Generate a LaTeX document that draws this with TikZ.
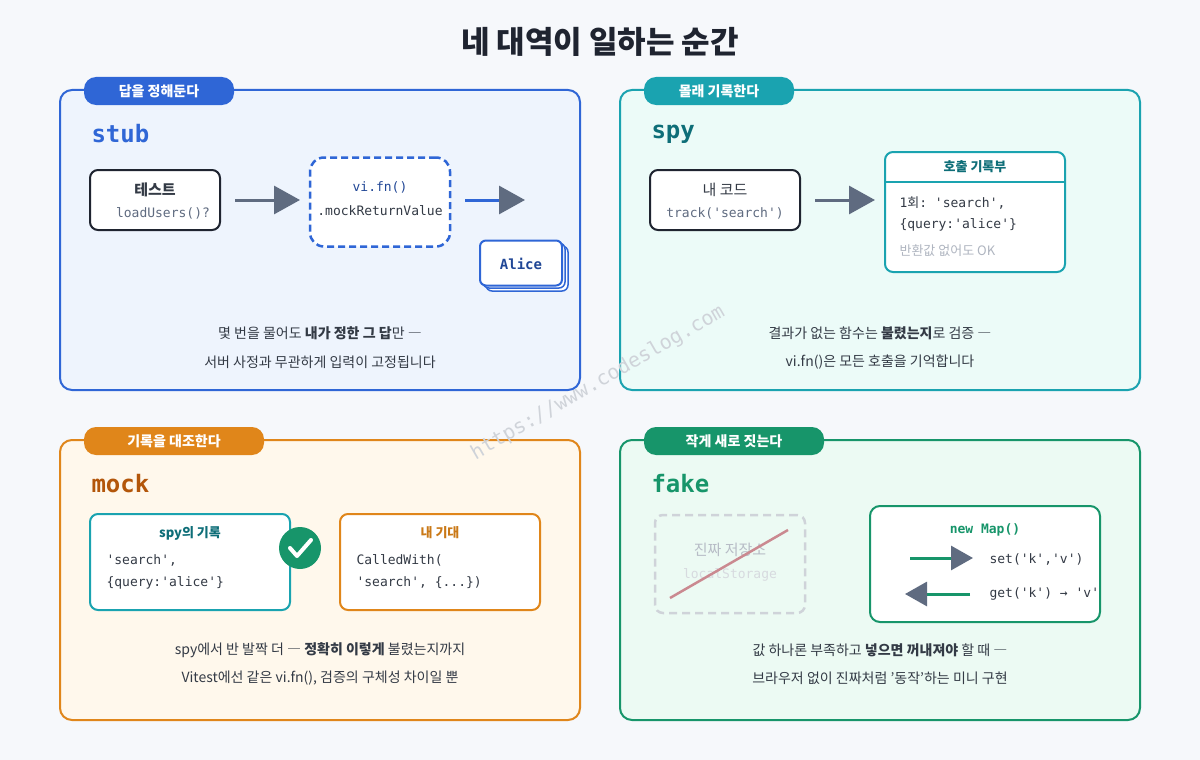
\documentclass[tikz,border=0pt]{standalone}
\usepackage{fontspec}
\setmainfont{Noto Sans CJK KR}
\setmonofont{DejaVu Sans Mono}
\usetikzlibrary{arrows.meta,positioning,shapes}
\definecolor{bg}{HTML}{F6F8FB}
\definecolor{stubc}{HTML}{2F66D6}
\definecolor{stubbg}{HTML}{EEF4FD}
\definecolor{spyc}{HTML}{1AA3B0}
\definecolor{spybg}{HTML}{ECFBF8}
\definecolor{spyd}{HTML}{0E6E78}
\definecolor{mockc}{HTML}{E0861A}
\definecolor{mockbg}{HTML}{FFF8EC}
\definecolor{mockd}{HTML}{B3560A}
\definecolor{fakec}{HTML}{17956A}
\definecolor{fakebg}{HTML}{ECFAF3}
\definecolor{slate}{HTML}{5F6B80}
\definecolor{ink}{HTML}{1F2430}
\definecolor{txt}{HTML}{333A45}
\newcommand{\fs}[1]{\fontsize{#1}{#1}\selectfont}
\begin{document}
\begin{tikzpicture}[x=1pt,y=-1pt,
    panel/.style={draw=#1,line width=2,rounded corners=12},
    tab/.style={fill=#1,rounded corners=12,text=white,font=\fs{14}\bfseries,inner sep=0},
    head/.style={anchor=west,text=#1,font=\fs{24}\ttfamily\bfseries},
    box/.style={draw=#1,fill=white,line width=2,rounded corners=8},
    note/.style={text=txt,font=\fs{14}},
    code/.style={font=\fs{13}\ttfamily,text=txt},
    flow/.style={line width=3,draw=#1,-{Triangle[length=26,width=28,color=slate]}}
  ]
  \useasboundingbox[fill=bg] (0,0) rectangle (1200,760);
  \node[text=ink,font=\fs{31}\bfseries] (title) at (600,42) {네 대역이 일하는 순간};

  % panels
  \filldraw[panel=stubc,fill=stubbg] (60,90) rectangle (580,390);
  \filldraw[panel=spyc,fill=spybg] (620,90) rectangle (1140,390);
  \filldraw[panel=mockc,fill=mockbg] (60,440) rectangle (580,720);
  \filldraw[panel=fakec,fill=fakebg] (620,440) rectangle (1140,720);

  % tabs
  \node[tab=stubc,minimum width=150,minimum height=28] (t1) at (159,91) {답을 정해둔다};
  \node[tab=spyc,minimum width=150,minimum height=28] (t2) at (719,91) {몰래 기록한다};
  \node[tab=mockc,minimum width=180,minimum height=28] (t3) at (174,441) {기록을 대조한다};
  \node[tab=fakec,minimum width=180,minimum height=28] (t4) at (734,441) {작게 새로 짓는다};

  % watermark
  \node[rotate=30,text=slate!30,font=\fs{20}\ttfamily] (wm) at (598,383) {https://www.codeslog.com};

  % stub
  \node[head=stubc] (h1) at (88,134) {stub};
  \node[box=ink,minimum width=130,minimum height=60] (test) at (155,200) {};
  \node[font=\fs{15}\bfseries,text=txt] at (155,190) {테스트};
  \node[code,text=slate] at (163,213) {loadUsers()?};
  \node[draw=stubc,fill=white,line width=2.5,dash pattern=on 7pt off 4pt,rounded corners=14,minimum width=140,minimum height=89] (vifn) at (380,202) {};
  \node[code,text=stubc!70!black] at (380,187) {vi.fn()};
  \node[code] at (380,211) {.mockReturnValue};
  \coordinate (a1) at (235,200);
  \coordinate (a2) at (300,200);
  \draw[flow=slate] (a1) -- (a2);
  \coordinate (a3) at (465,200);
  \coordinate (a4) at (525,200);
  \draw[flow=stubc] (a3) -- (a4);
  \foreach \d in {6,3}
    \draw[box=stubc,line width=1.5,rounded corners=6] (480+\d,240+\d) rectangle (562+\d,285+\d);
  \node[box=stubc,minimum width=82,minimum height=45,rounded corners=6] (alice) at (521,263) {};
  \node[font=\fs{14}\ttfamily\bfseries,text=stubc!70!black] at (521,264) {Alice};
  \node[note] (n1) at (320,333) {몇 번을 물어도 \textbf{내가 정한 그 답}만 ―};
  \node[note] (n2) at (320,362) {서버 사정과 무관하게 입력이 고정됩니다};

  % spy
  \node[head=spyd] (h2) at (648,134) {spy};
  \node[box=ink,minimum width=150,minimum height=60] (mine) at (725,200) {};
  \node[font=\fs{15},text=txt] at (725,190) {내 코드};
  \node[code,text=slate] at (725,213) {track('search')};
  \coordinate (b1) at (815,200);
  \coordinate (b2) at (875,200);
  \draw[flow=slate] (b1) -- (b2);
  \node[box=spyc,minimum width=180,minimum height=120] (log) at (975,212) {};
  \draw[spyc,line width=2] (885,182) -- (1065,182);
  \node[font=\fs{13}\bfseries,text=spyd] at (975,167) {호출 기록부};
  \node[code,anchor=west] at (896,203) {1{\rmfamily 회}: 'search',};
  \node[code,anchor=west] at (896,225) {\{query:'alice'\}};
  \node[anchor=west,font=\fs{13},text=slate!50] at (896,251) {반환값 없어도 OK};
  \node[note] (n3) at (880,333) {결과가 없는 함수는 \textbf{불렸는지}로 검증 ―};
  \node[note] (n4) at (880,362) {vi.fn()은 모든 호출을 기억합니다};

  % mock
  \node[head=mockd] (h3) at (88,484) {mock};
  \node[box=spyc,minimum width=200,minimum height=96] (rec) at (190,562) {};
  \node[font=\fs{13}\bfseries,text=spyd] at (190,533) {spy의 기록};
  \node[code,anchor=west] at (103,560) {'search',};
  \node[code,anchor=west] at (103,583) {\{query:'alice'\}};
  \node[circle,fill=fakec,minimum size=42,inner sep=0] (ok) at (300,548) {};
  \draw[white,line width=4,line cap=round,line join=round] (290,548) -- (297,556) -- (311,540);
  \node[box=mockc,minimum width=200,minimum height=96] (exp) at (440,562) {};
  \node[font=\fs{13}\bfseries,text=mockc!90!black] at (440,533) {내 기대};
  \node[code,anchor=west] at (353,560) {CalledWith(};
  \node[code,anchor=west] at (353,583) {'search', \{...\})};
  \node[note] (n5) at (320,650) {spy에서 반 발짝 더 ― \textbf{정확히 이렇게} 불렸는지까지};
  \node[note] (n6) at (320,678) {Vitest에선 같은 vi.fn(), 검증의 구체성 차이일 뿐};

  % fake
  \node[head=fakec] (h4) at (648,484) {fake};
  \node[draw=slate!30,line width=2.5,dash pattern=on 8pt off 5pt,rounded corners=8,minimum width=150,minimum height=98] (real) at (730,564) {};
  \node[font=\fs{15},text=slate!45] at (730,550) {진짜 저장소};
  \node[code,text=slate!25] at (730,575) {localStorage};
  \draw[red!45!slate!60,line width=2.5] (670,598) -- (788,530);
  \node[box=fakec,minimum width=230,minimum height=116,rounded corners=10] (map) at (985,564) {};
  \node[font=\fs{13}\ttfamily\bfseries,text=fakec] at (985,530) {new Map()};
  \coordinate (c1) at (910,558);
  \coordinate (c2) at (973,558);
  \draw[flow=fakec,-{Triangle[length=22,width=24,color=slate]}] (c1) -- (c2);
  \coordinate (c3) at (970,594);
  \coordinate (c4) at (905,594);
  \draw[flow=fakec,-{Triangle[length=22,width=24,color=slate]}] (c3) -- (c4);
  \node[code,anchor=west] at (986,559) {set('k','v')};
  \node[code,anchor=west] at (986,594) {get('k') → 'v'};
  \node[note] (n7) at (880,650) {값 하나론 부족하고 \textbf{넣으면 꺼내져야} 할 때 ―};
  \node[note] (n8) at (880,678) {브라우저 없이 진짜처럼 '동작'하는 미니 구현};
\end{tikzpicture}
\end{document}
